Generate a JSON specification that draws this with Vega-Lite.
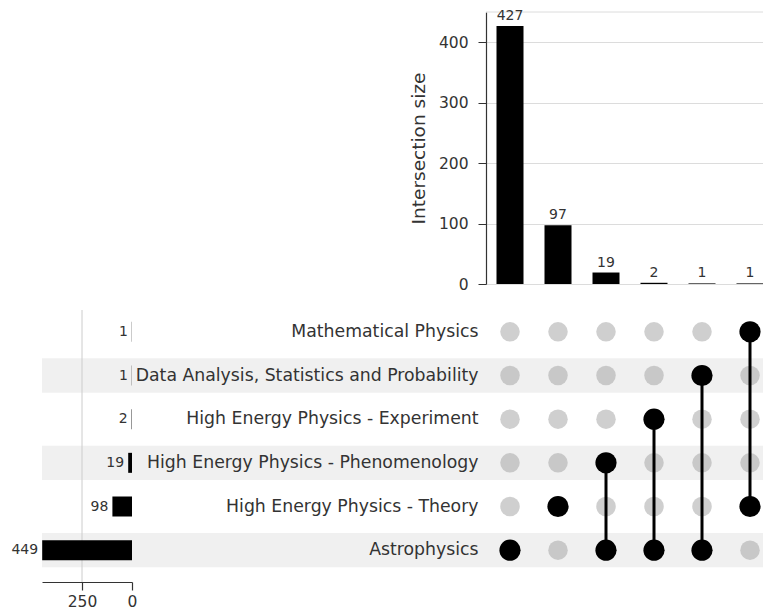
{
  "$schema": "https://vega.github.io/schema/vega-lite/v6.json",
  "padding": {"left": 11, "top": 8, "right": 0, "bottom": 0},
  "config": {
    "view": {"stroke": null},
    "font": "DejaVu Sans",
    "axis": {"labelColor": "#333", "titleColor": "#333", "titleFontWeight": "normal", "domainColor": "#333", "tickColor": "#333"}
  },
  "datasets": {
    "intersections": [
      {"combo": "AS", "size": 427},
      {"combo": "TH", "size": 97},
      {"combo": "AS+PH", "size": 19},
      {"combo": "AS+EX", "size": 2},
      {"combo": "AS+DA", "size": 1},
      {"combo": "TH+MP", "size": 1}
    ],
    "sets": [
      {"set": "Mathematical Physics", "size": 1},
      {"set": "Data Analysis, Statistics and Probability", "size": 1},
      {"set": "High Energy Physics - Experiment", "size": 2},
      {"set": "High Energy Physics - Phenomenology", "size": 19},
      {"set": "High Energy Physics - Theory", "size": 98},
      {"set": "Astrophysics", "size": 449}
    ],
    "membership": [
      {"combo": "AS", "set": "Mathematical Physics", "member": false},
      {"combo": "AS", "set": "Data Analysis, Statistics and Probability", "member": false},
      {"combo": "AS", "set": "High Energy Physics - Experiment", "member": false},
      {"combo": "AS", "set": "High Energy Physics - Phenomenology", "member": false},
      {"combo": "AS", "set": "High Energy Physics - Theory", "member": false},
      {"combo": "AS", "set": "Astrophysics", "member": true},
      {"combo": "TH", "set": "Mathematical Physics", "member": false},
      {"combo": "TH", "set": "Data Analysis, Statistics and Probability", "member": false},
      {"combo": "TH", "set": "High Energy Physics - Experiment", "member": false},
      {"combo": "TH", "set": "High Energy Physics - Phenomenology", "member": false},
      {"combo": "TH", "set": "High Energy Physics - Theory", "member": true},
      {"combo": "TH", "set": "Astrophysics", "member": false},
      {"combo": "AS+PH", "set": "Mathematical Physics", "member": false},
      {"combo": "AS+PH", "set": "Data Analysis, Statistics and Probability", "member": false},
      {"combo": "AS+PH", "set": "High Energy Physics - Experiment", "member": false},
      {"combo": "AS+PH", "set": "High Energy Physics - Phenomenology", "member": true},
      {"combo": "AS+PH", "set": "High Energy Physics - Theory", "member": false},
      {"combo": "AS+PH", "set": "Astrophysics", "member": true},
      {"combo": "AS+EX", "set": "Mathematical Physics", "member": false},
      {"combo": "AS+EX", "set": "Data Analysis, Statistics and Probability", "member": false},
      {"combo": "AS+EX", "set": "High Energy Physics - Experiment", "member": true},
      {"combo": "AS+EX", "set": "High Energy Physics - Phenomenology", "member": false},
      {"combo": "AS+EX", "set": "High Energy Physics - Theory", "member": false},
      {"combo": "AS+EX", "set": "Astrophysics", "member": true},
      {"combo": "AS+DA", "set": "Mathematical Physics", "member": false},
      {"combo": "AS+DA", "set": "Data Analysis, Statistics and Probability", "member": true},
      {"combo": "AS+DA", "set": "High Energy Physics - Experiment", "member": false},
      {"combo": "AS+DA", "set": "High Energy Physics - Phenomenology", "member": false},
      {"combo": "AS+DA", "set": "High Energy Physics - Theory", "member": false},
      {"combo": "AS+DA", "set": "Astrophysics", "member": true},
      {"combo": "TH+MP", "set": "Mathematical Physics", "member": true},
      {"combo": "TH+MP", "set": "Data Analysis, Statistics and Probability", "member": false},
      {"combo": "TH+MP", "set": "High Energy Physics - Experiment", "member": false},
      {"combo": "TH+MP", "set": "High Energy Physics - Phenomenology", "member": false},
      {"combo": "TH+MP", "set": "High Energy Physics - Theory", "member": true},
      {"combo": "TH+MP", "set": "Astrophysics", "member": false}
    ]
  },
  "columns": 2,
  "bounds": "flush",
  "spacing": {"row": 26, "column": 0},
  "concat": [
    {
      "width": 444,
      "height": 272,
      "data": {"values": [{}]},
      "mark": {"type": "point", "opacity": 0}
    },
    {
      "width": 277,
      "height": 272,
      "layer": [
        {
          "data": {"values": [{}]},
          "mark": {"type": "rule", "color": "#dcdcdc"},
          "encoding": {"y": {"datum": 450, "type": "quantitative"}}
        },
        {
          "data": {"name": "intersections"},
          "mark": {"type": "bar", "color": "black", "clip": true},
          "encoding": {
            "x": {"field": "combo", "type": "nominal", "axis": null,
                  "scale": {"domain": ["AS", "TH", "AS+PH", "AS+EX", "AS+DA", "TH+MP"], "range": [0, 288], "paddingInner": 0.4375, "paddingOuter": 0.21875}},
            "y": {"field": "size", "type": "quantitative",
                  "scale": {"domain": [0, 450], "nice": false, "zero": true},
                  "axis": {"title": "Intersection size", "values": [0, 100, 200, 300, 400], "grid": true, "gridColor": "#dcdcdc",
                           "tickSize": 8, "labelPadding": 10, "labelFontSize": 15.5, "titleFontSize": 18.5, "titlePadding": 10, "domainWidth": 1.2}}
          }
        },
        {
          "data": {"name": "intersections"},
          "mark": {"type": "text", "baseline": "alphabetic", "dy": -6, "fontSize": 14, "color": "#333"},
          "encoding": {
            "x": {"field": "combo", "type": "nominal"},
            "y": {"field": "size", "type": "quantitative"},
            "text": {"field": "size", "type": "quantitative"}
          }
        }
      ]
    },
    {
      "width": 444,
      "height": 272,
      "layer": [
        {
          "data": {"name": "sets"},
          "transform": [{"window": [{"op": "row_number", "as": "row"}]}, {"filter": "datum.row % 2 == 0"}],
          "mark": {"type": "rect", "color": "#f0f0f0"},
          "encoding": {
            "y": {"field": "set", "type": "nominal", "axis": null,
                  "scale": {"domain": ["Mathematical Physics", "Data Analysis, Statistics and Probability", "High Energy Physics - Experiment", "High Energy Physics - Phenomenology", "High Energy Physics - Theory", "Astrophysics"],
                            "range": [0, 262], "paddingInner": 0.212, "paddingOuter": 0.106}}
          }
        },
        {
          "data": {"values": [{}]},
          "mark": {"type": "rule", "color": "#cccccc"},
          "encoding": {"x": {"datum": 250, "type": "quantitative"}}
        },
        {
          "data": {"name": "sets"},
          "mark": {"type": "bar", "color": "black", "size": 20},
          "encoding": {
            "y": {"field": "set", "type": "nominal"},
            "x": {"field": "size", "type": "quantitative",
                  "scale": {"domain": [0, 450], "range": [90, 0], "nice": false},
                  "axis": {"title": null, "values": [0, 250], "grid": false, "labelFlush": false, "tickSize": 8, "labelFontSize": 15.5, "labelPadding": 4, "domainWidth": 1.2, "tickWidth": 1.2}}
          }
        },
        {
          "data": {"name": "sets"},
          "mark": {"type": "text", "align": "right", "dx": -4, "fontSize": 14, "color": "#333"},
          "encoding": {
            "y": {"field": "set", "type": "nominal"},
            "x": {"field": "size", "type": "quantitative"},
            "text": {"field": "size", "type": "quantitative"}
          }
        }
      ]
    },
    {
      "width": 277,
      "height": 272,
      "encoding": {
        "y": {"field": "set", "type": "nominal",
              "scale": {"domain": ["Mathematical Physics", "Data Analysis, Statistics and Probability", "High Energy Physics - Experiment", "High Energy Physics - Phenomenology", "High Energy Physics - Theory", "Astrophysics"],
                        "range": [0, 262], "paddingInner": 0.212, "paddingOuter": 0.106},
              "axis": {"title": null, "domain": false, "ticks": false, "labelPadding": 8, "labelFontSize": 17.3, "labelLimit": 600}}
      },
      "layer": [
        {
          "data": {"name": "sets"},
          "transform": [{"window": [{"op": "row_number", "as": "row"}]}, {"filter": "datum.row % 2 == 0"}],
          "mark": {"type": "rect", "color": "#f0f0f0"}
        },
        {
          "data": {"name": "membership"},
          "transform": [{"filter": "!datum.member"}],
          "mark": {"type": "circle", "size": 380, "color": "#a8a8a8", "opacity": 0.55},
          "encoding": {
            "x": {"field": "combo", "type": "nominal", "axis": null,
                  "scale": {"domain": ["AS", "TH", "AS+PH", "AS+EX", "AS+DA", "TH+MP"], "range": [0, 288], "paddingInner": 0.4375, "paddingOuter": 0.21875}}
          }
        },
        {
          "data": {"name": "membership"},
          "transform": [{"filter": "datum.member"}],
          "mark": {"type": "line", "color": "black", "strokeWidth": 3},
          "encoding": {
            "x": {"field": "combo", "type": "nominal"},
            "detail": {"field": "combo"}
          }
        },
        {
          "data": {"name": "membership"},
          "transform": [{"filter": "datum.member"}],
          "mark": {"type": "circle", "size": 450, "color": "black", "opacity": 1},
          "encoding": {
            "x": {"field": "combo", "type": "nominal"}
          }
        }
      ]
    }
  ]
}
